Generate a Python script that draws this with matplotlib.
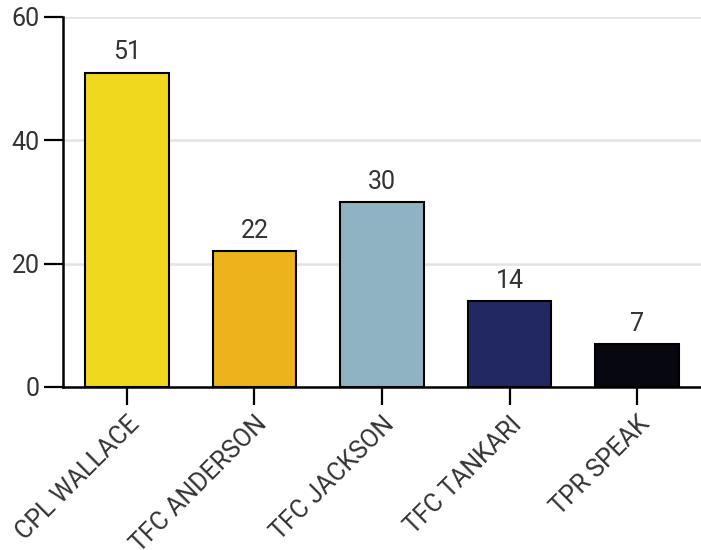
import matplotlib.pyplot as plt

plt.rcParams['font.family'] = ['Roboto', 'DejaVu Sans']

names = ["CPL WALLACE", "TFC ANDERSON", "TFC JACKSON", "TFC TANKARI", "TPR SPEAK"]
counts = [51, 22, 30, 14, 7]
colors = ["#F0D81E", "#EBB41C", "#8FB3C3", "#212862", "#07070F"]

fig = plt.figure(figsize=(7.01, 5.5), dpi=100)
ax = fig.add_axes([63 / 701, 163 / 550, 638 / 701, 370 / 550])

x = range(len(names))
bars = ax.bar(x, counts, width=0.655, color=colors, edgecolor="black", linewidth=1.5, zorder=3)
for b, v in zip(bars, counts):
    ax.text(b.get_x() + b.get_width() / 2, v + 1.3, str(v), ha="center", va="bottom",
            fontsize=18, color="#333333")

ax.set_xlim(-0.5, 4.5)
ax.set_ylim(0, 60)
ax.set_yticks([0, 20, 40, 60])
ax.set_xticks(list(x))
ax.set_xticklabels(names, rotation=45, ha="right", va="top", rotation_mode="anchor")

ax.yaxis.grid(True, color="#e3e3e3", linewidth=1.8, zorder=0)
for s in ["top", "right"]:
    ax.spines[s].set_visible(False)
ax.spines["left"].set_linewidth(1.8)
ax.spines["bottom"].set_linewidth(1.8)
ax.spines["bottom"].set_zorder(4)
ax.tick_params(axis="both", length=14, width=1.6, labelsize=18, labelcolor="#333333", pad=3)
ax.tick_params(axis="x", length=13, pad=5)

fig.savefig("out.png", dpi=100)
